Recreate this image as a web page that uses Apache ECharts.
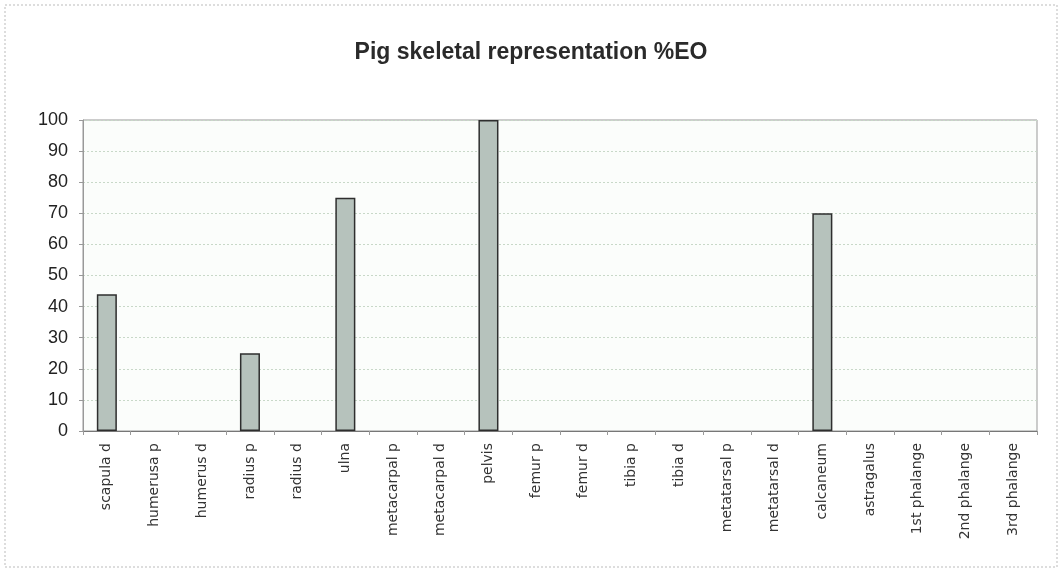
<!DOCTYPE html>
<html><head><meta charset="utf-8">
<script src="https://cdn.jsdelivr.net/npm/echarts@6/dist/echarts.min.js"></script>
<style>html,body{margin:0;padding:0;background:#fff}#c{width:1062px;height:575px}</style>
</head><body><div id="c"></div>
<script>
const categories = ["scapula d","humerusa p","humerus d","radius p","radius d","ulna","metacarpal p","metacarpal d","pelvis","femur p","femur d","tibia p","tibia d","metatarsal p","metatarsal d","calcaneum","astragalus","1st phalange","2nd phalange","3rd phalange"];
const values = [44,0,0,25,0,75,0,0,100,0,0,0,0,0,0,70,0,0,0,0];
const yTicks = [0,10,20,30,40,50,60,70,80,90,100];
const titleText = "Pig skeletal representation %EO";

const chart = echarts.init(document.getElementById('c'));
chart.setOption({
  animation:false,
  backgroundColor:'#fff',
  title:{text:titleText,left:'center',top:36,textStyle:{fontFamily:'Liberation Sans',fontWeight:'bold',fontSize:23,color:'#2a2a2a'}},
  grid:{left:83,right:25,top:120,bottom:144,show:true,backgroundColor:'#fbfdfb',borderColor:'#999',borderWidth:1},
  xAxis:{type:'category',data:categories,
    axisLine:{lineStyle:{color:'#777',width:1}},
    axisTick:{show:true,length:4,lineStyle:{color:'#999'}},
    axisLabel:{rotate:90,interval:0,fontFamily:'DejaVu Sans',fontSize:14,color:'#333',margin:12}},
  yAxis:{type:'value',min:yTicks[0],max:yTicks[yTicks.length-1],interval:10,
    axisLine:{show:true,lineStyle:{color:'#999'}},
    axisTick:{show:true,length:4,lineStyle:{color:'#999'}},
    axisLabel:{fontFamily:'Liberation Sans',fontSize:18,color:'#222',margin:15},
    splitLine:{lineStyle:{color:'#c8d8c8',type:[2,2]}}},
  series:[{type:'bar',data:values.map(v => v === 0 ? '-' : v),barWidth:'42%',
    itemStyle:{color:'#b6c2bc',borderColor:'#2e2e2e',borderWidth:1.5}}],
  graphic:[{type:'rect',shape:{x:5,y:5,width:1052,height:562},style:{fill:null,stroke:'#bbb',lineWidth:1,lineDash:[2,2]},silent:true}]
});
</script></body></html>
